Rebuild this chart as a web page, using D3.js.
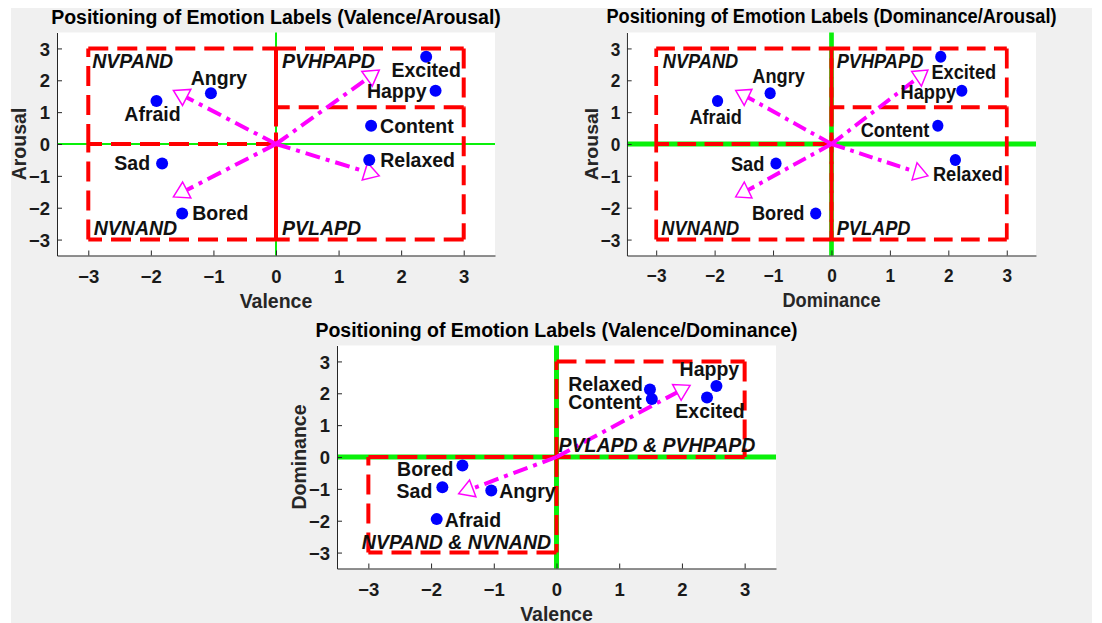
<!DOCTYPE html>
<html>
<head>
<meta charset="utf-8">
<script src="https://cdn.jsdelivr.net/npm/d3@7"></script>
<style>
  html, body { margin: 0; padding: 0; background: #ffffff; }
  svg { display: block; font-family: "Liberation Sans", Arial, Helvetica, sans-serif; font-weight: bold; }
</style>
</head>
<body>
<svg id="chart" width="1102" height="623"></svg>
<script>
// Emotion labels and their coordinates in valence / arousal / dominance space
const emotions  = ["Excited", "Happy", "Content", "Relaxed", "Angry", "Afraid", "Sad", "Bored"];
const valence   = [2.40, 2.55, 1.52, 1.49, -1.04, -1.91, -1.82, -1.50];
const arousal   = [2.74, 1.67, 0.57, -0.50, 1.59, 1.35, -0.61, -2.18];
const dominance = [1.87, 2.23, 1.82, 2.12, -1.05, -1.95, -0.95, -0.27];

// Axis ticks and limits
const tickValues = [-3, -2, -1, 0, 1, 2, 3];
const axisDomain = [-3.5, 3.5];

// Quadrant regions [x0, x1, y0, y1]
const quadNames = ["NVPAND", "NVNAND", "PVHPAPD", "PVLAPD"];
const quadBoxes = [[-3, 0, 0, 3], [-3, 0, -3, 0], [0, 3, 1.15, 3], [0, 3, -3, 1.15]];
const vdNames   = ["PVLAPD & PVHPAPD", "NVPAND & NVNAND"];
const vdBoxes   = [[0, 3, 0, 3], [-3, 0, -3, 0]];

// Direction vectors drawn from the origin
const quadArrows = [[1.65, 2.32], [-1.64, 1.68], [-1.64, -1.66], [1.65, -1.0]];
const vdArrows   = [[2.13, 2.25], [-1.56, -1.15]];

const svg = d3.select("#chart");

// figure background
svg.append("rect").attr("x", 0).attr("y", 0).attr("width", 1102).attr("height", 623).attr("fill", "#ffffff");
svg.append("rect").attr("x", 11).attr("y", 8).attr("width", 1081).attr("height", 615).attr("fill", "#f0f0f0");

const FS = 19.5;     // text size
const TFS = 18.5;    // tick label size

// label placement: [anchor, dx, dy] relative to the dot
const placeVA = {
  Excited: ["middle", 0, 20], Happy: ["end", -9, 7], Content: ["start", 9, 7], Relaxed: ["start", 11, 7],
  Angry: ["middle", 8, -8], Afraid: ["middle", -4, 20], Sad: ["end", -12, 7], Bored: ["start", 10, 7]
};
const placeDA = {
  Excited: ["start", -10, 22], Happy: ["end", -6, 8.5], Content: ["end", -9, 11], Relaxed: ["start", -24, 21],
  Angry: ["middle", 9, -10.5], Afraid: ["middle", -2, 23], Sad: ["end", -12.5, 7.5], Bored: ["end", -12, 7]
};
const placeVD = {
  Excited: ["middle", 3, 21], Happy: ["middle", -7, -9.5], Content: ["end", -10, 10], Relaxed: ["end", -7, 2],
  Angry: ["start", 8, 7.5], Afraid: ["start", 8, 7.5], Sad: ["end", -10, 10.5], Bored: ["end", -9, 10]
};

const panels = [
  {
    title: "Positioning of Emotion Labels (Valence/Arousal)", xLabel: "Valence", yLabel: "Arousal",
    xs: valence, ys: arousal, left: 57, top: 32.5, width: 438, height: 223, sx: 1,
    greenW: 2, names: quadNames, boxes: quadBoxes, arrows: quadArrows, place: placeVA,
    regionPlace: [["tl", 4, 20], ["bl", 5.5, -4.5], ["tl", 6, 20], ["bl", 6, -4.5]]
  },
  {
    title: "Positioning of Emotion Labels (Dominance/Arousal)", xLabel: "Dominance", yLabel: "Arousal",
    xs: dominance, ys: arousal, left: 627, top: 32.5, width: 438, height: 223, sx: 409 / 438,
    greenW: 5, names: quadNames, boxes: quadBoxes, arrows: quadArrows, place: placeDA,
    regionPlace: [["tl", 7, 20], ["bl", 5.5, -4.5], ["tl", 5.5, 20], ["bl", 5.5, -4.5]]
  },
  {
    title: "Positioning of Emotion Labels (Valence/Dominance)", xLabel: "Valence", yLabel: "Dominance",
    xs: valence, ys: dominance, left: 337, top: 345.5, width: 439, height: 223, sx: 1,
    greenW: 5, names: vdNames, boxes: vdBoxes, arrows: vdArrows, place: placeVD,
    regionPlace: [["bl", 2, -5.5], ["bl", -6.5, -4]]
  }
];

function drawPanel(p) {
  const g = svg.append("g").attr("transform", `translate(${p.left},0) scale(${p.sx},1)`);
  const x = d3.scaleLinear().domain(axisDomain).range([0, p.width]);
  const y = d3.scaleLinear().domain(axisDomain).range([p.top + p.height, p.top]);
  const bottom = p.top + p.height;

  // white plotting area
  g.append("rect").attr("x", 0).attr("y", p.top).attr("width", p.width).attr("height", p.height).attr("fill", "#ffffff");

  // green zero lines
  g.append("line").attr("x1", x(0)).attr("x2", x(0)).attr("y1", p.top).attr("y2", bottom)
    .attr("stroke", "#0af00a").attr("stroke-width", p.greenW);
  g.append("line").attr("x1", 0).attr("x2", p.width).attr("y1", y(0)).attr("y2", y(0))
    .attr("stroke", "#0af00a").attr("stroke-width", p.greenW);

  // axes with inward ticks
  const xAxis = g.append("g").attr("transform", `translate(0,${bottom})`)
    .call(d3.axisBottom(x).tickValues(tickValues).tickSizeInner(-5).tickSizeOuter(0).tickFormat(d3.format("d")));
  const yAxis = g.append("g")
    .call(d3.axisLeft(y).tickValues(tickValues).tickSizeInner(-5).tickSizeOuter(0).tickFormat(d3.format("d")));
  [xAxis, yAxis].forEach(a => {
    a.attr("font-family", null).attr("font-size", null);
    a.selectAll("path, line").attr("stroke", "#262626").attr("stroke-width", 1);
    a.selectAll("text").attr("fill", "#1a1a1a").style("font-size", TFS + "px").style("font-weight", "bold");
  });
  xAxis.selectAll("text").attr("y", 27).attr("dy", null);
  yAxis.selectAll("text").attr("x", -7).attr("dy", "0.36em");

  // region boxes, drawn edge by edge so shared edges appear once
  const seen = new Set();
  p.boxes.forEach(b => {
    const [x0, x1, y0, y1] = b;
    const edges = [[x0, y1, x1, y1], [x1, y1, x1, y0], [x1, y0, x0, y0], [x0, y0, x0, y1]];
    edges.forEach(e => {
      const key = [[e[0], e[1]].join(","), [e[2], e[3]].join(",")].sort().join("|");
      if (seen.has(key)) return;
      seen.add(key);
      g.append("line")
        .attr("x1", x(e[0])).attr("y1", y(e[1])).attr("x2", x(e[2])).attr("y2", y(e[3]))
        .attr("stroke", "#ff0000").attr("stroke-width", 4).attr("stroke-dasharray", "20,9");
    });
  });

  // direction arrows with hollow triangular heads
  const ox = x(0), oy = y(0);
  p.arrows.forEach(a => {
    const tx = x(a[0]), ty = y(a[1]);
    const len = Math.hypot(tx - ox, ty - oy);
    const ux = (tx - ox) / len, uy = (ty - oy) / len;
    const L = 15, W = 9;
    const bx = tx - L * ux, by = ty - L * uy;
    g.append("line").attr("x1", ox).attr("y1", oy).attr("x2", bx).attr("y2", by)
      .attr("stroke", "#ff00ff").attr("stroke-width", 4).attr("stroke-dasharray", "15,6,4,6");
    const tri = [[tx, ty], [bx - W * uy, by + W * ux], [bx + W * uy, by - W * ux]];
    g.append("path").attr("d", d3.line()(tri) + "Z")
      .attr("fill", "none").attr("stroke", "#ff00ff").attr("stroke-width", 1.5);
  });

  // emotion points
  emotions.forEach((e, i) => {
    g.append("circle").attr("cx", x(p.xs[i])).attr("cy", y(p.ys[i])).attr("r", 6).attr("fill", "#0000ff");
  });

  // emotion labels
  emotions.forEach((e, i) => {
    const pl = p.place[e];
    g.append("text").attr("x", x(p.xs[i]) + pl[1]).attr("y", y(p.ys[i]) + pl[2])
      .attr("text-anchor", pl[0]).attr("fill", "#111").style("font-size", FS + "px").text(e);
  });

  // region labels
  p.names.forEach((n, i) => {
    const b = p.boxes[i], rp = p.regionPlace[i];
    const yy = rp[0] === "tl" ? y(b[3]) : y(b[2]);
    g.append("text").attr("x", x(b[0]) + rp[1]).attr("y", yy + rp[2])
      .attr("fill", "#111").style("font-size", FS + "px").style("font-style", "italic").text(n);
  });

  // title and axis labels
  g.append("text").attr("x", p.width / 2).attr("y", p.top - 9).attr("text-anchor", "middle")
    .attr("fill", "#000").style("font-size", FS + "px").text(p.title);
  g.append("text").attr("x", p.width / 2).attr("y", bottom + 52).attr("text-anchor", "middle")
    .attr("fill", "#262626").style("font-size", FS + "px").text(p.xLabel);
  g.append("text").attr("transform", `translate(-31,${(p.top + bottom) / 2}) rotate(-90)`)
    .attr("text-anchor", "middle").attr("fill", "#262626").style("font-size", FS + "px").text(p.yLabel);
}

panels.forEach(drawPanel);
</script>
</body>
</html>
